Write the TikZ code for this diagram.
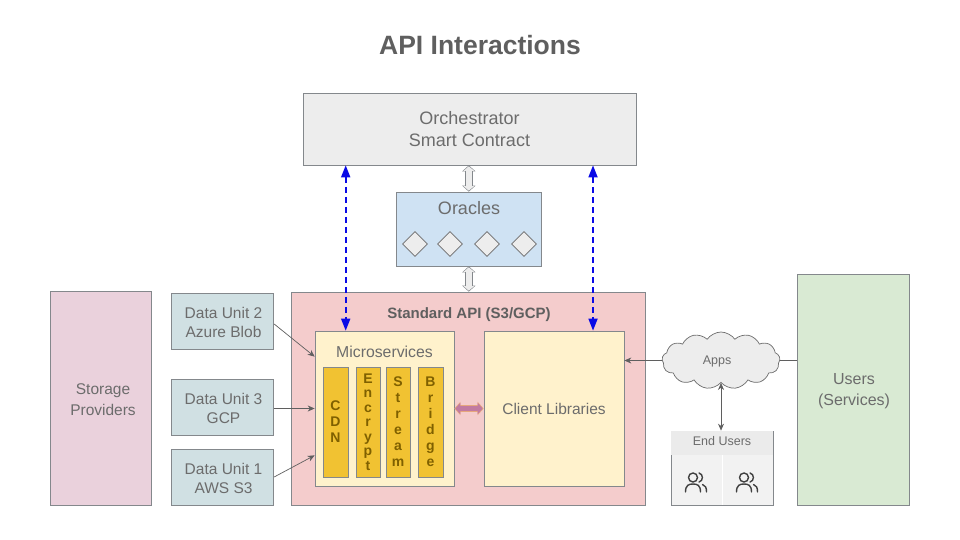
\documentclass[tikz,border=0pt]{standalone}
\usepackage{fontspec}
\setmainfont{Liberation Sans}
\usetikzlibrary{arrows.meta, calc, shapes.geometric, shapes.symbols}

\definecolor{edgegray}{HTML}{84888C}
\definecolor{textgray}{HTML}{6C6C6C}
\definecolor{linkgray}{HTML}{5F5F5F}
\definecolor{linkblue}{HTML}{0A0AE6}
\definecolor{oraclefill}{HTML}{CFE2F3}
\definecolor{storagefill}{HTML}{EAD1DC}
\definecolor{unitfill}{HTML}{D0E0E3}
\definecolor{apifill}{HTML}{F4CCCC}
\definecolor{creamfill}{HTML}{FFF2CC}
\definecolor{usersfill}{HTML}{D9EAD3}
\definecolor{barfill}{HTML}{F1C232}
\definecolor{bartext}{HTML}{7F6000}
\definecolor{pinkfill}{HTML}{C27BA0}
\definecolor{pinkedge}{HTML}{E6A77C}

\tikzset{
	box/.style = {draw = edgegray, line width = 0.7pt, text = textgray, align = center, inner sep = 0pt, font = \fontsize{16}{21}\selectfont},
	boxtitle/.style = {text = textgray, align = center, inner sep = 0pt},
	servicebar/.style = {draw = edgegray, line width = 0.7pt, fill = barfill, text = bartext, align = center, inner sep = 0pt},
	link/.style = {linkgray, line width = 0.7pt, -{Stealth[length = 7pt, width = 6pt]}},
	bothlink/.style = {linkgray, line width = 0.7pt, {Stealth[length = 7pt, width = 6pt]}-{Stealth[length = 7pt, width = 6pt]}},
	bluelink/.style = {draw = linkblue, line width = 1.7pt, dash pattern = on 6pt off 4pt, {Triangle[length = 12pt, width = 9pt]}-{Triangle[length = 12pt, width = 9pt]}},
	hollowlink/.style = {line width = 6.6pt, white!93!black, {Triangle[length = 4.5pt, width = 10.5pt]}-{Triangle[length = 4.5pt, width = 10.5pt]}, shorten < = 1pt, shorten > = 1pt,
		preaction = {draw, edgegray, line width = 8pt, {Triangle[length = 6pt, width = 13pt]}-{Triangle[length = 6pt, width = 13pt]}, shorten < = 0pt, shorten > = 0pt}},
	pinklink/.style = {line width = 5.2pt, pinkfill, {Triangle[length = 5pt, width = 11pt]}-{Triangle[length = 5pt, width = 11pt]}, shorten < = 1pt, shorten > = 1pt,
		preaction = {draw, pinkedge, line width = 6.4pt, {Triangle[length = 6pt, width = 13pt]}-{Triangle[length = 6pt, width = 13pt]}, shorten < = 0pt, shorten > = 0pt}},
	oracle/.style = {diamond, draw = textgray, line width = 0.7pt, fill = white!93!black, minimum width = 25pt, minimum height = 25pt, inner sep = 0pt},
	peopleicon/.style = {draw = black!75, line width = 1.4pt, line cap = round}
}

\begin{document}
\begin{tikzpicture}[x = 1pt, y = -1pt]

	\useasboundingbox (0, 0) rectangle (960, 540);

	% Title

	\node [text = linkgray, font = \bfseries\fontsize{26.5}{30}\selectfont] (title) at (480, 45) {API Interactions};

	% Top boxes

	\node [box, fill = white!93!black, minimum width = 333pt, minimum height = 72pt, font = \fontsize{18}{22.5}\selectfont] (orchestrator) at (469.5, 129) {Orchestrator\\Smart Contract};
	\node [box, fill = oraclefill, minimum width = 145.5pt, minimum height = 74pt] (oracles) at (468.8, 229) {};
	\node [boxtitle, font = \fontsize{18}{22}\selectfont] (oracletitle) at (469, 208) {Oracles};

	\foreach \n/\x in {a/415, b/450, c/487, d/524}
		\node [oracle] (oracle\n) at (\x, 244) {};

	% Left side

	\node [box, fill = storagefill, minimum width = 101pt, minimum height = 214pt] (storage) at (101.2, 398) {};
	\node [boxtitle, font = \fontsize{15.5}{21}\selectfont] (storagetitle) at (103, 399.5) {Storage\\Providers};

	\foreach \n/\y/\txt in {unittwo/321/{Data Unit 2\\Azure Blob}, unitthree/407/{Data Unit 3\\GCP}, unitone/477/{Data Unit 1\\AWS S3}} {
		\node [box, fill = unitfill, minimum width = 102pt, minimum height = 56pt] (\n) at (222.8, \y) {};
		\node [boxtitle, font = \fontsize{15.5}{19}\selectfont] (\n title) at (223.5, \y + 1) {\txt};
	}

	% Standard API

	\node [box, fill = apifill, minimum width = 354pt, minimum height = 213pt] (api) at (468.8, 398.5) {};
	\node [text = linkgray, font = \bfseries\fontsize{15}{18}\selectfont] (apititle) at (469, 315) {Standard API (S3/GCP)};
	\node [box, fill = creamfill, minimum width = 139pt, minimum height = 155pt] (microservices) at (384.5, 408.5) {};
	\node [boxtitle, font = \fontsize{15.8}{18}\selectfont] (microtitle) at (384.5, 352) {Microservices};
	\node [box, fill = creamfill, minimum width = 140pt, minimum height = 155pt, font = \fontsize{15.5}{18}\selectfont] (clientlibs) at (554, 408.5) {Client Libraries};

	\foreach \n/\x/\w/\s/\txt in {cdn/335.5/25/16/C\\D\\N, encrypt/368/24/14.5/E\\n\\c\\r\\y\\p\\t, stream/398/24/16/S\\t\\r\\e\\a\\m, bridge/430.5/25/16/B\\r\\i\\d\\g\\e}
		\node [servicebar, minimum width = \w pt, minimum height = 110pt, font = \bfseries\fontsize{14}{\s}\selectfont] (\n) at (\x, 422) {\txt};

	% Right side

	\node [box, fill = usersfill, minimum width = 112.5pt, minimum height = 231pt] (users) at (853.3, 389.5) {};
	\node [boxtitle, font = \fontsize{16}{21}\selectfont] (userstitle) at (854, 391.5) {Users\\(Services)};
	\node [cloud, cloud puffs = 13, cloud puff arc = 110, aspect = 2.1, draw = textgray, line width = 0.7pt, fill = white!93!black, minimum width = 118pt, minimum height = 57pt, inner sep = 0pt] (apps) at (721, 360.5) {};
	\node [boxtitle, font = \fontsize{12.5}{14}\selectfont] (appstitle) at (717, 361.5) {Apps};
	\node [draw = edgegray, line width = 0.7pt, fill = white!95!black, minimum width = 102pt, minimum height = 74pt, inner sep = 0pt] (endusers) at (722, 468) {};
	\fill [white!92!black] (671.4, 431.4) rectangle (772.6, 455);
	\node [boxtitle, font = \fontsize{12.5}{15}\selectfont] (endtitle) at (722, 441.5) {End Users};
	\draw [white, line width = 0.7pt] (722, 455) -- (722, 504.6);

	\foreach \x in {696, 747} {
		\draw [peopleicon] (\x - 3, 477.5) circle (4.5);
		\draw [peopleicon] (\x + 3, 473) .. controls (\x + 7.5, 474) and (\x + 7.5, 481) .. (\x + 3, 482);
		\draw [peopleicon] (\x - 10.5, 492) .. controls (\x - 10.5, 485) and (\x - 7, 484) .. (\x - 3, 484) .. controls (\x + 1, 484) and (\x + 4.5, 485) .. (\x + 4.5, 492);
		\draw [peopleicon] (\x + 6.5, 484.5) .. controls (\x + 9.5, 485) and (\x + 10.5, 488) .. (\x + 10.5, 492);
	}

	% Links

	\coordinate (leftblue) at (345.7, 0);
	\coordinate (rightblue) at (593, 0);

	\draw [hollowlink] (oracles.north) -- (oracles.north |- orchestrator.south);
	\draw [hollowlink] (oracles.south) -- (oracles.south |- api.north);
	\draw [pinklink] (microservices.east) -- (clientlibs.west);
	\draw [bluelink] (leftblue |- orchestrator.south) -- (leftblue |- microservices.north);
	\draw [bluelink] (rightblue |- orchestrator.south) -- (rightblue |- clientlibs.north);

	\draw [link] ($(unittwo.east) + (0, 3)$) -- ($(microservices.north west) + (0, 26)$);
	\draw [link] ($(unitthree.east) + (0, 1.5)$) -- (microservices.west);
	\draw [link] (unitone.east) -- ($(microservices.south west) + (0, -31)$);
	\draw [link] (apps.west) -- (clientlibs.east |- apps.west);
	\draw [linkgray, line width = 0.7pt] (apps.east) -- (users.west |- apps.east);
	\draw [bothlink] (apps.south) -- (apps.south |- endusers.north);

\end{tikzpicture}
\end{document}
